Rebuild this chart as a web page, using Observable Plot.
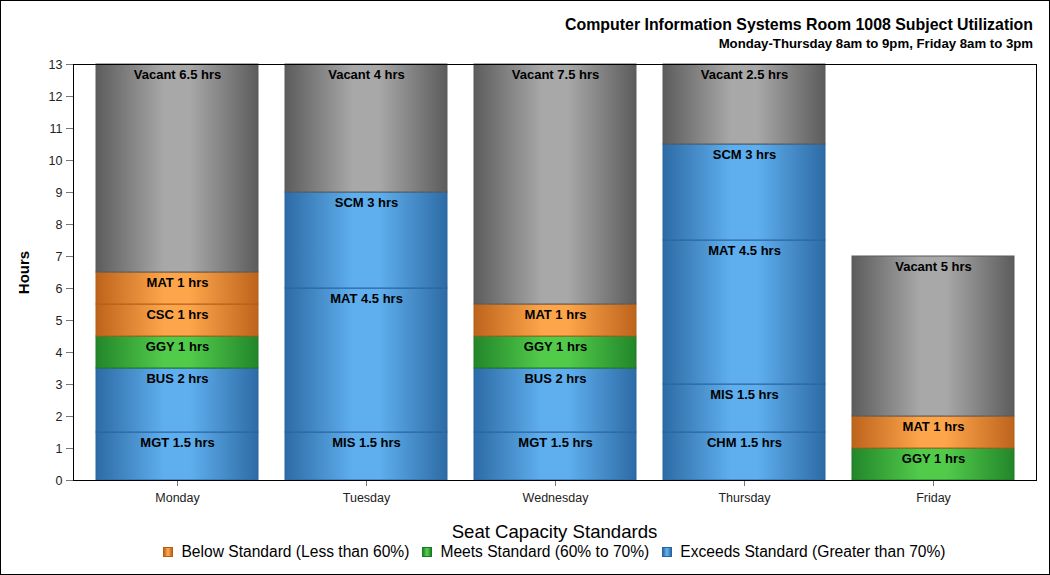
<!DOCTYPE html>
<html>
<head>
<meta charset="utf-8">
<script src="https://cdn.jsdelivr.net/npm/d3@7"></script>
<script src="https://cdn.jsdelivr.net/npm/@observablehq/plot@0.6"></script>
<style>
  body { margin: 0; background: #fff; font-family: "Liberation Sans", Arial, sans-serif; }
  #page { position: relative; width: 1050px; height: 575px; overflow: hidden; background: #fff; }
  #border { position: absolute; left: 0; top: 0; width: 1050px; height: 575px; box-sizing: border-box; border: 1px solid #000; pointer-events: none; }
  #chart { position: absolute; left: 0; top: 0; }
  #title { position: absolute; right: 17px; top: 15.5px; font-weight: bold; font-size: 15.9px; line-height: 18px; white-space: nowrap; color: #000; }
  #subtitle { position: absolute; right: 17px; top: 35.5px; font-weight: bold; font-size: 13.2px; line-height: 15px; white-space: nowrap; color: #000; }
  #legtitle { position: absolute; left: 73px; top: 521px; width: 963px; text-align: center; font-size: 18.6px; line-height: 21px; color: #000; }
  #legend { position: absolute; left: 73px; top: 543px; width: 963px; display: flex; justify-content: center; font-size: 15.6px; line-height: 18px; color: #000; white-space: nowrap; }
  .item { display: flex; align-items: center; margin: 0 6.5px; }
  .sw { width: 8px; height: 8px; border: 1px solid #333; margin-right: 8px; }
</style>
</head>
<body>
<div id="page">
  <div id="chart"></div>
  <div id="title">Computer Information Systems Room 1008 Subject Utilization</div>
  <div id="subtitle">Monday-Thursday 8am to 9pm, Friday 8am to 3pm</div>
  <div id="legtitle">Seat Capacity Standards</div>
  <div id="legend"></div>
  <div id="border"></div>
</div>
<script>
// ---- data ----
const days = ["Monday", "Tuesday", "Wednesday", "Thursday", "Friday"];
const segDay = [
  "Monday", "Monday", "Monday", "Monday", "Monday", "Monday",
  "Tuesday", "Tuesday", "Tuesday", "Tuesday",
  "Wednesday", "Wednesday", "Wednesday", "Wednesday", "Wednesday",
  "Thursday", "Thursday", "Thursday", "Thursday", "Thursday",
  "Friday", "Friday", "Friday"
];
const segSubject = [
  "MGT", "BUS", "GGY", "CSC", "MAT", "Vacant",
  "MIS", "MAT", "SCM", "Vacant",
  "MGT", "BUS", "GGY", "MAT", "Vacant",
  "CHM", "MIS", "MAT", "SCM", "Vacant",
  "GGY", "MAT", "Vacant"
];
const segHours = [
  1.5, 2, 1, 1, 1, 6.5,
  1.5, 4.5, 3, 4,
  1.5, 2, 1, 1, 7.5,
  1.5, 1.5, 4.5, 3, 2.5,
  1, 1, 5
];
const segStandard = [
  "Exceeds", "Exceeds", "Meets", "Below", "Below", "Vacant",
  "Exceeds", "Exceeds", "Exceeds", "Vacant",
  "Exceeds", "Exceeds", "Meets", "Below", "Vacant",
  "Exceeds", "Exceeds", "Exceeds", "Exceeds", "Vacant",
  "Meets", "Below", "Vacant"
];
const standards = ["Below", "Meets", "Exceeds"];
const standardLabels = [
  "Below Standard (Less than 60%)",
  "Meets Standard (60% to 70%)",
  "Exceeds Standard (Greater than 70%)"
];
const yTicks = [0, 1, 2, 3, 4, 5, 6, 7, 8, 9, 10, 11, 12, 13];

// ---- styles ----
const palette = {
  Below:   {dark: "#BD641C", light: "#FDA54B", edge: "#B45F1A"},
  Meets:   {dark: "#22862A", light: "#52CB4B", edge: "#1D7A23"},
  Exceeds: {dark: "#2D6BA5", light: "#5FAFEE", edge: "#2A65A0"},
  Vacant:  {dark: "#5C5C5C", light: "#A8A8A8", edge: "#5A5A5A"}
};

const data = segDay.map((d, i) => ({
  day: d, subject: segSubject[i], hours: segHours[i], standard: segStandard[i]
}));

const chart = Plot.plot({
  width: 1050,
  height: 515,
  marginTop: 64,
  marginBottom: 35,
  marginLeft: 73,
  marginRight: 14,
  style: {fontFamily: '"Liberation Sans", Arial, sans-serif', fontSize: "12.5px", color: "#000", background: "transparent"},
  x: {domain: days, paddingInner: 0.145, paddingOuter: 0.116, label: null},
  y: {domain: [0, 13], label: null},
  color: {type: "identity"},
  marks: [
    Plot.rectY(data, Plot.stackY({
      x: "day", y: "hours",
      fill: d => `url(#g-${d.standard})`,
      stroke: d => palette[d.standard].edge,
      strokeWidth: 1
    })),
    Plot.text(data, Plot.stackY2({
      x: "day", y: "hours",
      text: d => `${d.subject} ${d.hours} hrs`,
      lineAnchor: "top", dy: 5,
      fontWeight: "bold", fontSize: 13, fill: "#000"
    })),
    Plot.axisY({ticks: yTicks, tickFormat: d => String(d), tickSize: 7, tickPadding: 4, stroke: "#777", fill: "#222", label: null}),
    Plot.axisX({tickSize: 6, tickPadding: 7, stroke: "#777", fill: "#222", label: null}),
    Plot.frame({stroke: "#000"}),
    Plot.text(["Hours"], {text: d => d, frameAnchor: "left", textAnchor: "middle", dx: -49, rotate: -90, fontWeight: "bold", fontSize: 15, fill: "#000"})
  ]
});

// gradient definitions
const defs = Object.entries(palette).map(([k, c]) =>
  `<linearGradient id="g-${k}" x1="0" x2="1" y1="0" y2="0">
     <stop offset="0" stop-color="${c.dark}"/>
     <stop offset="0.42" stop-color="${c.light}"/>
     <stop offset="0.58" stop-color="${c.light}"/>
     <stop offset="1" stop-color="${c.dark}"/>
   </linearGradient>`).join("");
chart.insertAdjacentHTML("afterbegin", `<defs>${defs}</defs>`);
document.getElementById("chart").appendChild(chart);

// legend
const legend = document.getElementById("legend");
standards.forEach((s, i) => {
  const c = palette[s];
  const item = document.createElement("div");
  item.className = "item";
  const sw = document.createElement("div");
  sw.className = "sw";
  sw.style.background = `linear-gradient(to right, ${c.dark}, ${c.light} 45%, ${c.light} 55%, ${c.dark})`;
  sw.style.borderColor = c.edge;
  const t = document.createElement("span");
  t.textContent = standardLabels[i];
  item.appendChild(sw);
  item.appendChild(t);
  legend.appendChild(item);
});
</script>
</body>
</html>
